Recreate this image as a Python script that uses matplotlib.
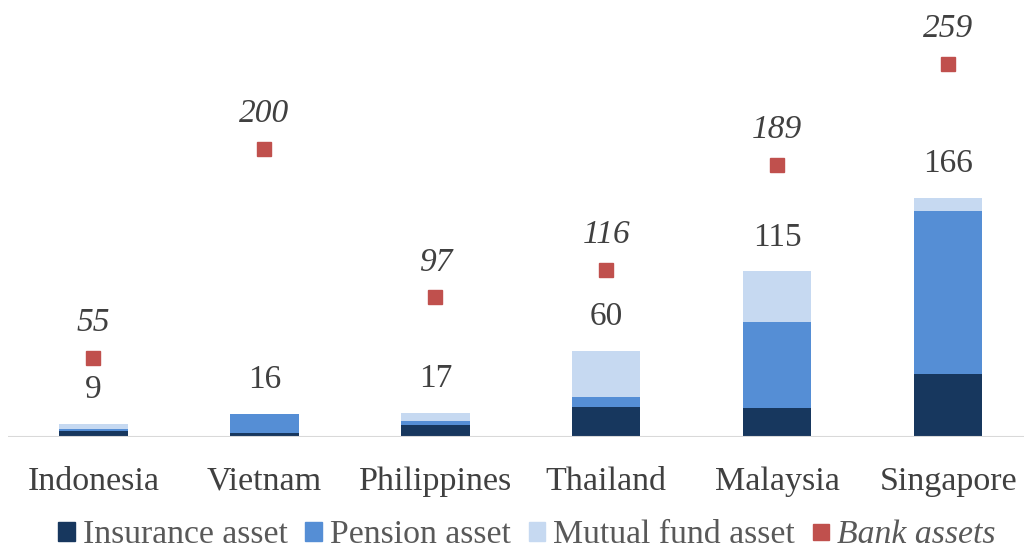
import matplotlib
matplotlib.use("Agg")
import matplotlib.pyplot as plt
from matplotlib.lines import Line2D
from matplotlib.patches import Patch

countries = ["Indonesia", "Vietnam", "Philippines", "Thailand", "Malaysia", "Singapore"]
insurance = [4, 3, 8, 21, 20, 44]
pension = [1.5, 13, 3, 7, 60, 113]
mutual = [3.5, 0, 6, 32, 35, 9]
totals = [9, 16, 17, 60, 115, 166]
bank = [55, 200, 97, 116, 189, 259]

c_ins = "#17375E"
c_pen = "#558ED5"
c_mut = "#C6D9F1"
c_bank = "#C0504D"
txt = "#404040"
txt2 = "#595959"

plt.rcParams['font.family'] = ['Liberation Serif', 'DejaVu Serif']

W, H = 1024, 554
fig = plt.figure(figsize=(W / 100, H / 100), dpi=100)
base_px = 437
ax = fig.add_axes([8 / W, (H - base_px) / H, (W - 8) / W, base_px / H])
ppu = 1.44
ax.set_ylim(0, base_px / ppu)
ax.set_xlim(-0.5, 5.444)

x = list(range(len(countries)))
bw = 0.4
ax.bar(x, insurance, bw, color=c_ins, label="Insurance asset")
b2 = [i for i in insurance]
ax.bar(x, pension, bw, bottom=b2, color=c_pen, label="Pension asset")
b3 = [i + p for i, p in zip(insurance, pension)]
ax.bar(x, mutual, bw, bottom=b3, color=c_mut, label="Mutual fund asset")
ax.plot(x, bank, linestyle="none", marker="s", markersize=10, color=c_bank, label="Bank assets")

off = 34 / ppu
for xi, t in zip(x, totals):
    ax.text(xi, t + off, str(t), ha="center", va="center", fontsize=24, color=txt)
off2 = 35 / ppu
for xi, b in zip(x, bank):
    ax.text(xi, b + off2, str(b), ha="center", va="center", fontsize=24, color=txt, style="italic")

ax.axhline(0, color="#d9d9d9", linewidth=1.5)
for s in ax.spines.values():
    s.set_visible(False)
ax.set_yticks([])
ax.set_xticks(x)
ax.set_xticklabels(countries, fontsize=24.5, color=txt)
ax.tick_params(axis="x", length=0, pad=21)

handles = [Patch(color=c_ins), Patch(color=c_pen), Patch(color=c_mut),
           Line2D([], [], linestyle="none", marker="s", markersize=11, color=c_bank)]
labels = ["Insurance asset", "Pension asset", "Mutual fund asset", "Bank assets"]
leg = fig.legend(handles, labels, loc="center", bbox_to_anchor=(527 / W, 1 - 535 / H), ncol=4,
                 frameon=False, fontsize=24.3, handlelength=0.5, handleheight=0.5, handletextpad=0.23,
                 columnspacing=0.52, labelcolor=txt2, borderpad=0, borderaxespad=0)
leg.get_texts()[3].set_style("italic")

fig.savefig("out.png", dpi=100)
